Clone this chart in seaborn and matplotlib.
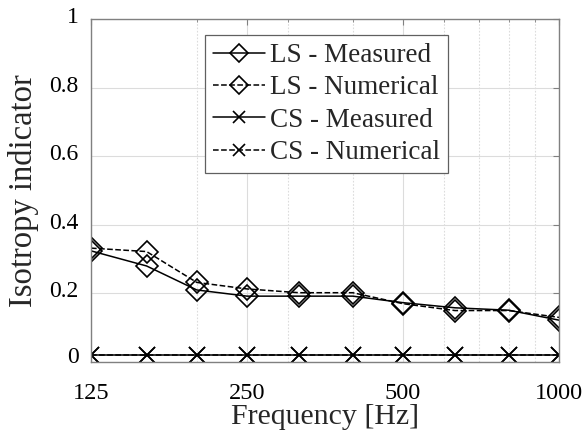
import matplotlib
matplotlib.use("Agg")
import matplotlib.pyplot as plt
import matplotlib.ticker as mticker
import matplotlib.transforms as mtrans
import seaborn as sns
import pandas as pd

freqs = [125, 160, 200, 250, 315, 400, 500, 630, 800, 1000]
ls_measured = [0.324, 0.28, 0.21, 0.192, 0.192, 0.192, 0.173, 0.158, 0.151, 0.122]
ls_numerical = [0.332, 0.322, 0.232, 0.213, 0.202, 0.202, 0.170, 0.150, 0.150, 0.130]
cs_measured = [0.02] * 10
cs_numerical = [0.02] * 10
xticks = [125, 250, 500, 1000]
yticks = [0, 0.2, 0.4, 0.6, 0.8, 1]
ytick_labels = ["0", "0.2", "0.4", "0.6", "0.8", "1"]

sns.set_style("white")
plt.rcParams["font.family"] = ["Liberation Serif", "DejaVu Serif"]

fig = plt.figure(figsize=(5.88, 4.37), dpi=100)
ax = fig.add_axes([91 / 588, 1 - 362 / 437, (559 - 91) / 588, (362 - 19) / 437])

series = [
    ("LS - Measured", ls_measured, "-", "D"),
    ("LS - Numerical", ls_numerical, "--", "D"),
    ("CS - Measured", cs_measured, "-", "x"),
    ("CS - Numerical", cs_numerical, "--", "x"),
]
for name, vals, ls, mk in series:
    df = pd.DataFrame({"f": freqs, "v": vals})
    kw = dict(marker=mk, markersize=11,
              markerfacecolor="none", markeredgecolor="black",
              markeredgewidth=1.2)
    sns.lineplot(data=df, x="f", y="v", ax=ax, color="black", linestyle=ls,
                 linewidth=1.1, label=name, **kw)

ax.set_xscale("log")
ax.set_xlim(125, 1000)
ax.set_ylim(0, 1)
ax.xaxis.set_major_locator(mticker.FixedLocator(xticks))
ax.xaxis.set_major_formatter(mticker.FixedFormatter([str(t) for t in xticks]))
ax.xaxis.set_minor_locator(mticker.FixedLocator([200, 300, 400, 600, 700, 800, 900]))
ax.xaxis.set_minor_formatter(mticker.NullFormatter())
ax.set_yticks(yticks)
ax.set_yticklabels(ytick_labels)

ax.grid(True, which="major", color="#dcdcdc", linewidth=0.8, linestyle="-")
ax.grid(True, which="minor", axis="x", color="#dcdcdc", linewidth=0.8, linestyle=(0, (1.5, 1.5)))
ax.set_axisbelow(True)

for sp in ax.spines.values():
    sp.set_visible(True)
    sp.set_color("#808080")
    sp.set_linewidth(1.0)
ax.tick_params(which="both", direction="in", colors="#808080", labelcolor="black",
               top=True, right=True, length=4)
ax.tick_params(which="minor", length=2.5)
ax.tick_params(axis="x", pad=15, labelsize=17.5)
ax.tick_params(axis="y", pad=9, labelsize=17)

# nudge y tick labels up slightly like the reference
offset = mtrans.ScaledTranslation(0, 4 / 100, fig.dpi_scale_trans)
for lab in ax.get_yticklabels():
    lab.set_transform(lab.get_transform() + offset)
lab0 = ax.get_yticklabels()[0]
lab0.set_transform(lab0.get_transform() + mtrans.ScaledTranslation(0, 3 / 100, fig.dpi_scale_trans))

ax.set_xlabel("Frequency [Hz]", fontsize=21.5, labelpad=0)
ax.set_ylabel("Isotropy indicator", fontsize=23.5, labelpad=7)

leg = ax.legend(loc="upper left", bbox_to_anchor=((205 - 91) / 468, 1 - (35 - 19) / 343),
                fontsize=19.5, frameon=True, fancybox=False, handlelength=1.9,
                handletextpad=0.2, borderpad=0.3, labelspacing=0.27, borderaxespad=0,
                markerscale=0.8)
leg.get_frame().set_edgecolor("#606060")
leg.get_frame().set_linewidth(0.9)
leg.get_frame().set_alpha(1)

fig.savefig("out.png", dpi=100)
